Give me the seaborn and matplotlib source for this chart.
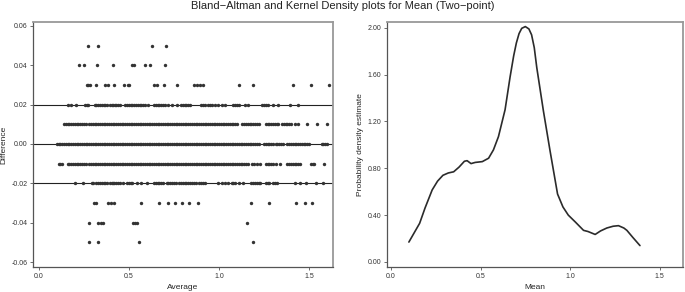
import pandas as pd
import matplotlib
matplotlib.use("Agg")
import matplotlib.pyplot as plt
import seaborn as sns
import numpy as np
from matplotlib.ticker import FormatStrFormatter

# Bland-Altman points: averages (in hundredths) for each difference level
avg_p05 = [27.4, 32.6, 62.6, 70.4]
avg_p04 = [22.2, 25.2, 32.2, 41.3, 52, 53, 58.9, 62, 70]
avg_p03 = [26.5, 27.4, 28.3, 32, 36.6, 38.5, 41.7, 47.4, 49.3, 50, 64.1, 65.4, 69.4,
           76.5, 86.3, 87.9, 89.4, 91.3, 111, 119, 141, 151, 161]
avg_p02 = [16.3, 18.1, 20.9, 25.6, 26.5, 27.4, 31, 32, 33, 34, 35, 36, 37, 38, 39.4,
           40.4, 41.3, 42.2, 43, 44, 45, 48, 49, 50, 51, 52, 53, 54, 55, 56, 57, 58, 59,
           60.7, 64, 65, 66, 67, 68, 69, 70, 71.9, 73.7, 76.5, 79, 80, 81, 82, 83, 84,
           90, 91, 92, 94, 95, 96, 97.8, 99.6, 101.5, 103.3, 108, 109, 110, 111, 114.4,
           116.3, 124, 125, 126, 127.4, 130.2, 133, 139.4, 144]
avg_p01 = [14, 15, 16, 17, 18, 19, 20, 21, 22, 23, 24, 25, 26,
           28, 29, 30, 31, 32, 33, 34, 35, 36, 37, 38, 39, 40, 41, 42, 43, 44, 45, 46, 47,
           48, 49, 50, 51, 52, 53, 54, 55, 56, 57, 58, 59, 60, 61, 62, 63, 64, 65, 66, 67,
           68, 69, 70, 71, 72, 73, 74, 75, 76, 77, 78, 79, 80, 81, 82, 83, 84, 85, 86, 87,
           88, 89, 90, 91, 92, 93, 94, 95, 96, 97, 98, 99, 100, 101, 102, 103, 104, 105,
           106, 107, 108, 109, 110, 112.6, 114, 115, 116, 117, 118, 119, 120, 121, 122,
           126, 127, 128, 129, 130, 131, 132, 133, 135, 136, 137, 138, 139, 140, 142, 144,
           148.7, 154.3, 159.8]
avg_000 = [10, 11, 12, 13, 14, 15, 16, 17, 18, 19, 20, 21, 22, 23, 24, 25, 26, 27, 28,
           29, 30, 31, 32, 33, 34, 35, 36, 37, 38, 39, 40, 41, 42, 43, 44, 45, 46, 47, 48,
           49, 50, 51, 52, 53, 54, 55, 56, 57, 58, 59, 60, 61, 62, 63, 64, 65, 66, 67, 68,
           69, 70, 71, 72, 73, 74, 75, 76, 77, 78, 79, 80, 81, 82, 83, 84, 85, 86, 87, 88,
           89, 90, 91, 92, 93, 94, 95, 96, 97, 98, 99, 100, 101, 102, 103, 104, 105, 106,
           107, 108, 109, 110, 111, 112, 113, 114, 115, 116, 117, 118, 119, 120, 121, 122,
           125, 126, 127, 128, 129, 130, 131.5, 132.5, 133.5, 134.5, 135.7, 138, 139, 140,
           141, 142, 143, 144, 145, 146, 147, 148, 149, 150, 157, 158, 159, 160]
avg_m01 = [11, 12, 13, 16, 17, 18, 19, 20, 21, 22, 23, 24, 25, 26, 28, 29, 30, 31, 32,
           33, 34, 35, 36, 37, 38, 39, 40, 41, 42, 43, 44, 45, 46, 47, 48, 49, 50, 51, 52,
           53, 54, 55, 56, 57, 58, 59, 60, 61, 62, 63, 64, 65, 66, 67, 68, 69, 70, 71, 72,
           73, 74, 75, 76, 77, 78, 79, 80, 81, 82, 83, 84, 85, 86, 87, 88, 89, 90, 91, 92,
           93, 94, 95, 96, 97, 98, 99, 100, 101, 102, 103, 104, 105, 106, 107, 108, 109,
           110, 111, 112, 113, 114, 115, 116, 118.1, 119.4, 121.3, 122.8, 126, 127, 128,
           129, 130, 131.7, 133.9, 138, 139, 140, 141, 142, 143, 144, 145, 151, 152, 153,
           158.5]
avg_m02 = [20, 24.3, 29.3, 30.2, 32, 33, 34, 35, 36, 37, 38, 39.4, 40.4, 41.3, 42, 43,
           44, 45, 46.9, 49, 50, 51, 52, 54.3, 56.7, 59.8, 64, 65, 66, 67, 68, 69, 71, 72,
           73, 74, 75, 76, 78, 79, 80, 81, 82, 83, 84, 85, 86, 87, 89, 90, 91, 92, 99.6,
           101.5, 103.3, 105.2, 107, 107.9, 108.9, 111.3, 113.5, 118, 119, 120, 121, 122,
           123, 126, 127, 128, 130, 131, 132, 142.2, 145, 148.3, 153.9, 157.9]
avg_m03 = [30.7, 32, 38.5, 40, 41.8, 56.7, 66.5, 71.5, 75.4, 79.4, 83.3, 88.3, 118, 128,
           142.6, 147.6, 151.7]
avg_m04 = [28, 33, 34.3, 35.4, 52.4, 53.3, 54.6, 115.4]
avg_m05 = [27.6, 32.6, 55.4, 119]

levels = [0.05, 0.04, 0.03, 0.02, 0.01, 0.0, -0.01, -0.02, -0.03, -0.04, -0.05]
level_avgs = [avg_p05, avg_p04, avg_p03, avg_p02, avg_p01, avg_000,
              avg_m01, avg_m02, avg_m03, avg_m04, avg_m05]
limit_lines = [0.02, 0.0, -0.02]

# Kernel density curve
kde_x = [0.10, 0.13, 0.16, 0.19, 0.23, 0.26, 0.29, 0.32, 0.35, 0.38, 0.41, 0.425,
         0.447, 0.47, 0.51, 0.545, 0.572, 0.60, 0.637, 0.665, 0.685, 0.70, 0.715, 0.73,
         0.75, 0.77, 0.785, 0.80, 0.814, 0.851, 0.888, 0.93, 0.96, 0.99, 1.03, 1.075,
         1.10, 1.14, 1.17, 1.205, 1.24, 1.27, 1.30, 1.317, 1.35, 1.39]
kde_y = [0.17, 0.25, 0.33, 0.46, 0.615, 0.69, 0.74, 0.76, 0.77, 0.81, 0.86, 0.865,
         0.84, 0.85, 0.857, 0.886, 0.957, 1.07, 1.30, 1.58, 1.76, 1.87, 1.95, 1.995,
         2.01, 1.99, 1.94, 1.83, 1.66, 1.29, 0.95, 0.58, 0.47, 0.40, 0.34, 0.27,
         0.26, 0.235, 0.265, 0.29, 0.305, 0.31, 0.29, 0.27, 0.21, 0.14]

rows = []
for lev, avgs in zip(levels, level_avgs):
    for a in avgs:
        rows.append({"Average": a / 100, "Difference": lev})
ba = pd.DataFrame(rows)
kde = pd.DataFrame({"Mean": kde_x, "Density": kde_y})

sns.set_style("white")
plt.rcParams["font.family"] = ["Liberation Sans", "DejaVu Sans"]

fig = plt.figure(figsize=(6.85, 2.92), dpi=100)
ax1 = fig.add_axes([0.048, 0.0856, 0.438, 0.8394])
ax2 = fig.add_axes([0.565, 0.0856, 0.432, 0.8394])

# Bland-Altman
for y in limit_lines:
    ax1.axhline(y, color="#222222", lw=0.8, zorder=1)
sns.scatterplot(data=ba, x="Average", y="Difference", ax=ax1, s=6, color="#333333",
                linewidth=0, zorder=2, legend=False)
ax1.set_xlim(-0.033, 1.633)
ax1.set_ylim(-0.0625, 0.062)
ax1.set_xticks([0.0, 0.5, 1.0, 1.5])
ax1.set_yticks([-0.06, -0.04, -0.02, 0.0, 0.02, 0.04, 0.06])
ax1.xaxis.set_major_formatter(FormatStrFormatter("%.1f"))
ax1.yaxis.set_major_formatter(FormatStrFormatter("%.2f"))

# Kernel density
sns.lineplot(data=kde, x="Mean", y="Density", ax=ax2, sort=False, color="#2b2b2b",
             lw=1.2)
ax2.set_xlim(-0.022, 1.63)
ax2.set_ylim(-0.043, 2.05)
ax2.set_xticks([0.0, 0.5, 1.0, 1.5])
ax2.set_yticks([0.0, 0.4, 0.8, 1.2, 1.6, 2.0])
ax2.xaxis.set_major_formatter(FormatStrFormatter("%.1f"))
ax2.yaxis.set_major_formatter(FormatStrFormatter("%.2f"))

ax1.set_xlabel("Average", fontsize=6, labelpad=3)
ax1.set_ylabel("Difference", fontsize=6, labelpad=3)
ax2.set_xlabel("Mean", fontsize=6, labelpad=3)
ax2.set_ylabel("Probability density estimate", fontsize=6, labelpad=3)

for ax in (ax1, ax2):
    ax.tick_params(axis="both", which="both", direction="out", length=2.5, width=0.6,
                   color="#555555", labelsize=5, pad=1.5, labelcolor="#333333",
                   left=True, bottom=True)
    ax.spines["left"].set_color("#555555")
    ax.spines["bottom"].set_color("#555555")
    ax.spines["left"].set_linewidth(0.9)
    ax.spines["bottom"].set_linewidth(0.9)
    ax.spines["top"].set_color("#999999")
    ax.spines["right"].set_color("#999999")
    ax.spines["top"].set_linewidth(1.3)
    ax.spines["right"].set_linewidth(1.3)

fig.suptitle("Bland\u2212Altman and Kernel Density plots for Mean (Two\u2212point)",
             fontsize=8, y=0.995, va="top", color="#222222")

fig.savefig("out.png", dpi=100)
